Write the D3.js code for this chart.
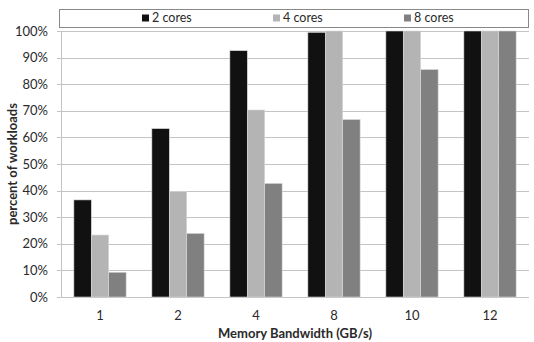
<!DOCTYPE html>
<html>
<head>
<meta charset="utf-8">
<script src="https://cdn.jsdelivr.net/npm/d3@7"></script>
<style>
  body { margin: 0; background: #fff; }
  svg text { font-family: Lato, "Open Sans", sans-serif; fill: #2a2a2a; }
</style>
</head>
<body>
<div id="main"></div>
<script>
const w = 534, h = 342;
const margin = {top: 31, right: 5, bottom: 45, left: 61};

const bandwidths = ['1', '2', '4', '8', '10', '12'];
const seriesNames = ['2 cores', '4 cores', '8 cores'];
const cores2 = [36.5, 63.3, 92.6, 99.5, 100, 100];
const cores4 = [23.3, 39.6, 70.3, 100, 100, 100];
const cores8 = [9.3, 23.9, 42.7, 66.7, 85.5, 100];
const yTicks = [0, 10, 20, 30, 40, 50, 60, 70, 80, 90, 100];
const barColors = ['#111111', '#b4b4b4', '#808080'];

const series = [cores2, cores4, cores8];

const svg = d3.select('#main')
  .append('svg')
  .attr('width', w)
  .attr('height', h);

const x0 = d3.scaleBand()
  .domain(bandwidths)
  .range([margin.left, w - margin.right])
  .paddingInner(0.33)
  .paddingOuter(0.165);

const x1 = d3.scaleBand()
  .domain(seriesNames)
  .range([0, x0.bandwidth()]);

const y = d3.scaleLinear()
  .domain([0, 100])
  .range([h - margin.bottom, margin.top]);

// gridlines
svg.append('g')
  .selectAll('line')
  .data(yTicks)
  .enter()
  .append('line')
  .attr('x1', margin.left - 4)
  .attr('x2', w - margin.right)
  .attr('y1', d => Math.round(y(d)) + 0.5)
  .attr('y2', d => Math.round(y(d)) + 0.5)
  .attr('stroke', '#c4c4c4')
  .attr('stroke-width', 1);

// y axis line
svg.append('line')
  .attr('x1', margin.left + 0.5)
  .attr('x2', margin.left + 0.5)
  .attr('y1', y(100))
  .attr('y2', y(0))
  .attr('stroke', '#c4c4c4');

// y tick labels
svg.append('g')
  .selectAll('text')
  .data(yTicks)
  .enter()
  .append('text')
  .attr('x', 48)
  .attr('y', d => y(d))
  .attr('dy', '0.35em')
  .attr('text-anchor', 'end')
  .attr('font-size', 13)
  .text(d => d + '%');

// bars
const groups = svg.append('g')
  .selectAll('g')
  .data(series)
  .enter()
  .append('g')
  .attr('fill', (d, i) => barColors[i]);

groups.selectAll('rect')
  .data((d, i) => d.map((v, j) => ({v, j, s: seriesNames[i]})))
  .enter()
  .append('rect')
  .attr('x', d => x0(bandwidths[d.j]) + x1(d.s))
  .attr('width', x1.bandwidth())
  .attr('y', d => y(d.v))
  .attr('height', d => y(0) - y(d.v))
  .attr('stroke', '#d8d8d8')
  .attr('stroke-width', 0.6);

// x tick labels
svg.append('g')
  .selectAll('text')
  .data(bandwidths)
  .enter()
  .append('text')
  .attr('x', d => x0(d) + x0.bandwidth() / 2)
  .attr('y', 315)
  .attr('dy', '0.35em')
  .attr('text-anchor', 'middle')
  .attr('font-size', 13)
  .text(d => d);

// axis titles
svg.append('text')
  .text('Memory Bandwidth (GB/s)')
  .attr('x', (margin.left + w - margin.right) / 2)
  .attr('y', 333)
  .attr('dy', '0.35em')
  .attr('text-anchor', 'middle')
  .attr('font-size', 13)
  .attr('font-weight', 'bold');

svg.append('text')
  .text('percent of workloads')
  .attr('transform', 'translate(12,' + (y(50)) + ') rotate(-90)')
  .attr('dy', '0.35em')
  .attr('text-anchor', 'middle')
  .attr('font-size', 13)
  .attr('font-weight', 'bold');

// legend
const legend = svg.append('g').attr('id', 'legend');
legend.append('rect')
  .attr('x', 59.5)
  .attr('y', 9.5)
  .attr('width', 469)
  .attr('height', 18)
  .attr('fill', '#fff')
  .attr('stroke', '#888');

const legendX = [142, 273, 404];
const items = legend.selectAll('g')
  .data(seriesNames)
  .enter()
  .append('g')
  .attr('transform', (d, i) => 'translate(' + legendX[i] + ',18)');
items.append('rect')
  .attr('x', 0)
  .attr('y', -3.5)
  .attr('width', 7)
  .attr('height', 7)
  .attr('fill', (d, i) => barColors[i]);
items.append('text')
  .attr('x', 10)
  .attr('dy', '0.35em')
  .attr('font-size', 12.5)
  .text(d => d);
</script>
</body>
</html>
